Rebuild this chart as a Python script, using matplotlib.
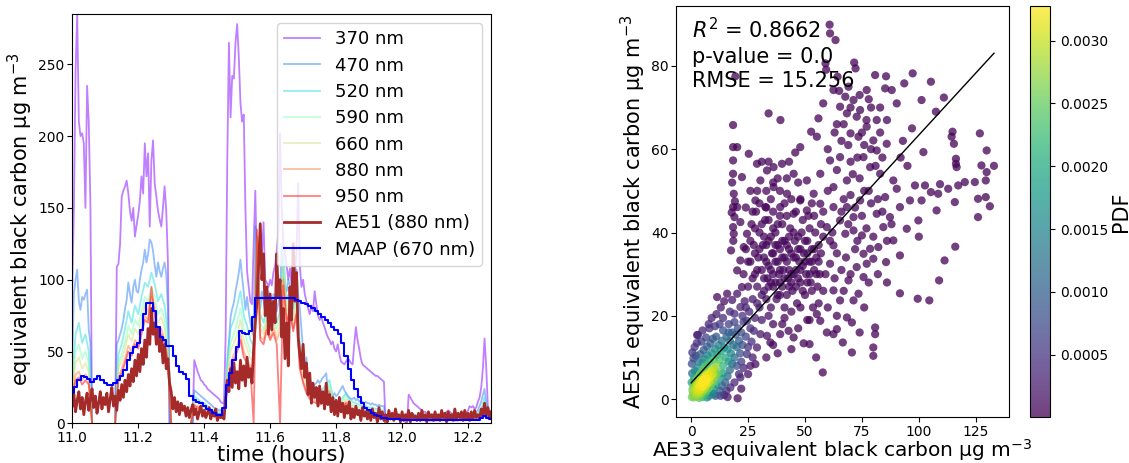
import numpy as np
import matplotlib
matplotlib.use('Agg')
import matplotlib.pyplot as plt

nan = np.nan

# ---------------- time series (left panel) ----------------
# 370 nm, 470 nm and AE51 are read on a 0.005 h grid, the rest on a 0.01 h grid
time_fine = 11.0 + 0.005 * np.arange(255)
time_coarse = 11.0 + 0.01 * np.arange(128)

bc_370 = [95, 150, 245, 285, 210, 200, 202, 195, 150, 235,
          210, 153, 0, nan, nan, nan, nan, nan, nan, nan,
          nan, nan, nan, nan, nan, nan, 0, 109, 111, 125,
          158, 162, 165, 169, 160, 148, 141, 150, 130, 138,
          145, 155, 172, 160, 195, 172, 188, 137, 183, 197,
          167, 158, 148, 142, 137, 150, 165, 148, 113, 0,
          nan, nan, nan, nan, nan, nan, nan, nan, nan, nan,
          nan, nan, nan, 0, 44, 40, 36, 33, 30, 29,
          27, 26, 24, 23, 22, 21, 20, 19, 18, 17,
          15, 14, 14, 60, 183, 265, 213, 242, 240, 265,
          278, 255, 223, 210, 215, 150, 106, 95, 85, 83,
          125, 162, 107, 105, 130, 118, 140, 100, 98, 95,
          100, 96, 105, 110, 120, 134, 202, 150, 125, 118,
          110, 100, 108, 96, 112, 104, 120, 167, 110, 95,
          100, 90, 85, 80, 76, 82, 78, 92, 83, 75,
          72, 74, 70, 67, 63, 60, 58, 55, 57, 52,
          50, 55, 48, 43, 42, 41, 43, 45, 44, 42,
          41, 55, 67, 58, 52, 45, 41, 40, 39, 38,
          37, 36, 35, 34, 33, 33, 32, 31, 30, 29,
          0, nan, nan, nan, nan, nan, nan, nan, nan, nan,
          nan, nan, nan, 0, 20, 18, 16, 14, 13, 12,
          11, 10, 9, 8, 8, 7, 7, 6, 6, 6,
          6, 5, 6, 5, 6, 5, 7, 8, 9, 8,
          7, 6, 6, 5, 6, 6, 5, 6, 6, 7,
          9, 12, 11, 12, 10, 11, 15, 18, 25, 38,
          59, 40, 12, 8, 6]

bc_470 = [45, 91, 100, 107, 85, 79, 88, 86, 90, 93,
          65, 56, 0, nan, nan, nan, nan, nan, nan, nan,
          nan, nan, nan, nan, nan, nan, 0, 55, 58, 62,
          66, 72, 80, 86, 98, 90, 84, 95, 100, 92,
          91, 100, 107, 112, 121, 112, 118, 128, 126, 120,
          110, 102, 112, 106, 102, 108, 112, 104, 80, 0,
          nan, nan, nan, nan, nan, nan, nan, nan, nan, nan,
          nan, nan, nan, 0, 23, 22, 21, 20, 19, 18,
          17, 16, 15, 14, 13, 12, 11, 10, 10, 9,
          9, 8, 8, 20, 40, 56, 74, 80, 84, 92,
          98, 105, 114, 102, 91, 79, 88, 78, 70, 65,
          60, 137, 95, 88, 80, 92, 85, 78, 88, 92,
          85, 82, 90, 86, 78, 84, 88, 125, 100, 95,
          92, 100, 96, 88, 94, 85, 107, 90, 80, 65,
          51, 37, 46, 32, 30, 29, 26, 27, 28, 30,
          28, 30, 32, 33, 35, 23, 22, 20, 19, 21,
          19, 20, 22, 24, 26, 23, 21, 19, 18, 17,
          17, 18, 16, 17, 15, 16, 15, 14, 15, 14,
          14, 13, 14, 13, 13, 12, 13, 12, 12, 12,
          0, nan, nan, nan, nan, nan, nan, nan, nan, nan,
          nan, nan, nan, 0, 7, 7, 6, 6, 6, 5,
          5, 5, 5, 5, 4, 4, 4, 5, 4, 4,
          4, 4, 5, 4, 4, 4, 5, 4, 4, 5,
          4, 5, 4, 4, 5, 4, 5, 5, 5, 5,
          6, 6, 6, 7, 7, 8, 9, 12, 15, 20,
          24, 14, 6, 5, 4]

bc_520 = [30, 62, 70, 56, 62, 50, 0, nan, nan, nan,
          nan, nan, nan, 0, 48, 55, 66, 78, 70, 82,
          76, 88, 98, 95, 105, 97, 85, 90, 82, 64,
          0, nan, nan, nan, nan, nan, 0, 19, 17, 15,
          14, 12, 10, 9, 8, 7, 6, 45, 66, 72,
          82, 92, 75, 68, 58, 54, 130, 76, 70, 80,
          75, 80, 70, 78, 118, 86, 92, 80, 95, 55,
          43, 33, 27, 25, 23, 22, 24, 27, 30, 19,
          16, 15, 18, 21, 17, 15, 14, 13, 12, 12,
          11, 11, 10, 10, 9, 0, nan, nan, nan, nan,
          nan, 0, 6, 5, 5, 4, 4, 4, 4, 3,
          3, 4, 4, 3, 4, 4, 3, 4, 4, 4,
          5, 5, 6, 7, 10, 18, 8, 4]

bc_590 = [26, 50, 55, 45, 50, 42, 0, nan, nan, nan,
          nan, nan, nan, 0, 42, 48, 57, 68, 62, 72,
          68, 78, 88, 85, 95, 88, 76, 80, 72, 55,
          0, nan, nan, nan, nan, nan, 0, 17, 15, 14,
          12, 11, 9, 8, 7, 6, 5, 38, 56, 62,
          70, 80, 65, 58, 50, 48, 128, 70, 65, 75,
          70, 74, 66, 72, 112, 82, 88, 76, 88, 50,
          38, 30, 24, 22, 20, 19, 21, 24, 27, 17,
          14, 13, 16, 19, 15, 13, 12, 11, 11, 10,
          10, 9, 9, 9, 8, 0, nan, nan, nan, nan,
          nan, 0, 5, 5, 4, 4, 4, 3, 3, 3,
          3, 3, 4, 3, 3, 4, 3, 3, 4, 4,
          4, 5, 5, 6, 9, 15, 7, 4]

bc_660 = [22, 42, 46, 38, 42, 36, 0, nan, nan, nan,
          nan, nan, nan, 0, 38, 44, 52, 62, 57, 66,
          62, 72, 82, 78, 90, 82, 70, 74, 66, 50,
          0, nan, nan, nan, nan, nan, 0, 15, 14, 12,
          11, 10, 8, 7, 6, 5, 5, 34, 50, 56,
          62, 72, 58, 52, 45, 44, 126, 66, 62, 72,
          66, 70, 62, 68, 108, 78, 85, 72, 84, 46,
          35, 27, 22, 20, 18, 17, 19, 22, 25, 15,
          13, 12, 14, 17, 14, 12, 11, 10, 10, 9,
          9, 8, 8, 8, 7, 0, nan, nan, nan, nan,
          nan, 0, 5, 4, 4, 4, 3, 3, 3, 3,
          3, 3, 3, 3, 3, 3, 3, 3, 3, 4,
          4, 4, 5, 5, 8, 12, 6, 3]

bc_880 = [18, 34, 36, 30, 34, 30, 0, nan, nan, nan,
          nan, nan, nan, 0, 32, 38, 45, 54, 50, 58,
          55, 65, 75, 72, 88, 78, 64, 66, 58, 44,
          0, nan, nan, nan, nan, nan, 0, 13, 12, 10,
          9, 8, 7, 6, 5, 4, 4, 28, 42, 48,
          54, 62, 50, 45, 40, 40, 130, 60, 58, 68,
          60, 66, 58, 64, 100, 72, 80, 66, 78, 40,
          30, 23, 19, 17, 15, 14, 16, 19, 22, 13,
          11, 10, 12, 15, 12, 10, 9, 9, 8, 8,
          8, 7, 7, 7, 6, 0, nan, nan, nan, nan,
          nan, 0, 4, 4, 3, 3, 3, 3, 3, 2,
          2, 3, 3, 2, 3, 3, 2, 3, 3, 3,
          3, 4, 4, 5, 7, 10, 5, 3]

bc_950 = [16, 30, 32, 27, 30, 27, 0, nan, nan, nan,
          nan, nan, nan, 0, 30, 35, 42, 50, 47, 55,
          52, 62, 72, 70, 95, 75, 60, 62, 55, 42,
          0, nan, nan, nan, nan, nan, 0, 12, 11, 9,
          8, 7, 6, 5, 4, 4, 3, 25, 38, 44,
          50, 58, 46, 42, 38, 0, 135, 58, 55, 65,
          58, 63, 55, 0, 96, 70, 78, 64, 76, 38,
          28, 21, 17, 15, 14, 13, 15, 18, 20, 12,
          10, 9, 11, 14, 11, 9, 8, 8, 7, 7,
          7, 6, 6, 6, 5, 0, nan, nan, nan, nan,
          nan, 0, 4, 3, 3, 3, 3, 2, 2, 2,
          2, 2, 3, 2, 2, 3, 2, 2, 3, 3,
          3, 3, 4, 4, 6, 9, 4, 3]

ae51_880 = [12, 20, 8, 16, 22, 10, 18, 6, 15, 21,
            9, 17, 24, 11, 19, 7, 14, 22, 10, 18,
            13, 21, 8, 17, 25, 12, 19, 9, 23, 16,
            27, 18, 30, 22, 34, 26, 38, 29, 44, 33,
            48, 36, 52, 41, 58, 46, 66, 55, 80, 62,
            70, 55, 66, 50, 60, 42, 55, 38, 45, 28,
            22, 10, 18, 8, 15, 6, 14, 9, 12, 5,
            11, 4, 9, 13, 6, 10, 3, 8, 12, 5,
            9, 4, 7, 11, 3, 8, 5, 10, 2, 6,
            4, 7, 3, 18, 30, 22, 38, 25, 42, 28,
            36, 24, 44, 30, 40, 26, 46, 32, 38, 28,
            52, 70, 84, 110, 139, 100, 118, 75, 95, 62,
            90, 65, 85, 70, 118, 88, 100, 60, 80, 45,
            70, 40, 95, 72, 125, 85, 105, 60, 48, 38,
            55, 32, 42, 20, 35, 14, 28, 18, 25, 12,
            26, 14, 22, 10, 28, 13, 20, 8, 18, 6,
            16, 5, 18, 8, 14, 4, 12, 7, 15, 3,
            10, 4, 12, 6, 9, 2, 11, 5, 8, 3,
            9, 2, 10, 4, 7, 1, 11, 3, 8, 2,
            6, 1, 9, 3, 7, 2, 10, 4, 6, 1,
            8, 2, 6, 3, 9, 1, 7, 4, 5, 2,
            7, 2, 9, 3, 6, 1, 8, 4, 6, 2,
            8, 3, 6, 2, 9, 4, 7, 1, 8, 3,
            6, 2, 10, 3, 7, 4, 8, 2, 9, 3,
            7, 2, 8, 3, 9, 4, 6, 3, 10, 5,
            14, 6, 11, 4, 8]

maap_670 = [21, 25, 30, 33, 32, 31, 29, 31, 33, 30,
            28, 27, 27, 28, 30, 33, 37, 44, 49, 53,
            56, 65, 76, 84, 84, 78, 67, 60, 58, 54,
            54, 47, 40, 36, 34, 31, 19, 16, 15, 14,
            12, 10, 9, 7, 6, 6, 11, 27, 35, 44,
            53, 64, 63, 62, 64, 74, 87, 87, 87, 87,
            87, 87, 87, 87, 87, 87, 87, 87, 86, 85,
            84, 83, 82, 80, 78, 76, 74, 72, 70, 67,
            65, 62, 56, 47, 38, 30, 24, 18, 14, 11,
            9, 7, 6, 5, 4, 4, 3, 3, 3, 3,
            2, 2, 2, 2, 2, 2, 2, 2, 2, 2,
            2, 2, 2, 2, 2, 2, 2, 2, 2, 2,
            2, 2, 2, 2, 4, 5, 4, 3]

ae33_labels = ['370 nm', '470 nm', '520 nm', '590 nm', '660 nm', '880 nm', '950 nm']

# ---------------- scatter (right panel): (AE33, AE51) ----------------
# the low-concentration blob holds most of the samples; each point there
# stands for many overlapping samples (core_count / mid_count / edge_count)
core_count = 16
mid_count = 12
edge_count = 2

core_pts = [(0.3, 0.5), (0.8, 1.2), (1.2, 0.4), (1.5, 2.0), (2.0, 1.1), (2.2, 2.8), (2.6, 0.6),
            (2.9, 1.9), (3.1, 3.4), (3.4, 2.5), (3.6, 1.2), (3.9, 3.0), (4.1, 4.1), (4.3, 2.2),
            (4.6, 3.6), (4.8, 1.6), (5.0, 4.6), (5.2, 2.9), (5.5, 3.8), (5.7, 5.2), (5.9, 2.4),
            (6.2, 4.4), (6.4, 3.2), (6.7, 5.8), (6.9, 4.9), (7.2, 3.7), (7.5, 6.1), (7.8, 5.0),
            (8.1, 4.2), (8.4, 6.6), (8.8, 5.5), (9.2, 7.0), (9.6, 6.0), (10.1, 7.4), (1.0, 3.0),
            (1.8, 3.6), (0.5, 2.2), (2.4, 4.5), (3.0, 5.2), (3.8, 5.9), (4.5, 6.5), (5.3, 7.0),
            (6.0, 7.6), (7.0, 8.2), (0.2, 4.0), (1.2, 5.0), (0.4, 6.2), (1.6, 6.8), (2.8, 7.4),
            (3.5, 0.3), (4.2, 0.8), (5.1, 0.5), (6.1, 1.2), (6.8, 2.0), (7.6, 2.6), (8.3, 3.0),
            (9.0, 3.8), (9.8, 4.6), (10.5, 5.2), (11.2, 6.0), (3.2, 2.6), (3.7, 3.1), (4.2, 3.3),
            (4.7, 3.9), (5.1, 4.1), (3.9, 2.2), (4.4, 2.9), (2.7, 2.3), (5.6, 4.6), (6.1, 5.0),
            (3.3, 3.8), (4.9, 3.2), (2.3, 1.6), (1.9, 2.4), (5.4, 3.5), (6.5, 4.0), (2.6, 3.3),
            (4.0, 4.6), (3.0, 1.5), (6.3, 5.6)]

mid_pts = [(0.3, 8.5), (1.0, 9.8), (0.5, 11.2), (2.0, 10.4), (1.5, 12.5), (3.2, 9.0), (4.0, 10.8),
           (2.5, 13.5), (5.0, 8.8), (6.0, 9.6), (5.5, 11.8), (7.2, 10.5), (8.0, 9.0), (7.0, 12.6),
           (9.0, 11.0), (8.5, 13.4), (10.0, 9.5), (10.5, 12.0), (11.0, 8.2), (11.5, 10.6),
           (12.0, 13.0), (12.5, 9.4), (13.0, 11.5), (13.5, 14.0), (14.0, 8.0), (14.5, 12.4),
           (15.0, 10.0), (15.5, 15.0), (16.0, 12.0), (16.5, 9.0), (17.0, 14.0), (17.5, 11.0),
           (18.0, 16.0), (18.5, 13.0), (19.0, 10.0), (19.5, 15.5), (20.0, 12.5), (12.0, 6.5),
           (13.0, 5.0), (14.0, 6.2), (15.0, 4.0), (16.0, 5.5), (17.0, 7.0), (18.0, 8.5),
           (11.0, 3.5), (12.5, 2.0), (10.0, 2.5), (9.0, 1.5), (8.0, 0.8), (7.0, 0.4), (13.5, 3.2),
           (15.5, 2.0), (14.0, 16.5), (11.0, 15.0), (9.5, 14.5), (6.5, 14.8), (4.5, 13.8),
           (3.0, 15.4), (8.0, 17.0), (10.5, 17.5), (12.5, 18.0), (16.5, 18.0), (19.0, 18.5),
           (20.5, 17.0), (21.0, 14.0), (22.0, 16.0), (21.5, 11.0), (22.5, 13.0), (23.0, 18.5),
           (20.0, 8.0), (21.0, 6.0), (22.0, 9.0)]

edge_pts = [(11.4, 24.5), (13.0, 22.0), (14.5, 23.5), (15.8, 25.3), (17.0, 21.0), (18.0, 23.8),
            (19.0, 20.5), (20.2, 25.3), (21.6, 22.1), (22.5, 20.0), (23.5, 23.5), (24.5, 18.8),
            (25.5, 21.0), (26.0, 17.0), (27.5, 16.4), (28.0, 19.5), (24.0, 15.0), (25.0, 12.5),
            (26.5, 13.8), (28.9, 12.4), (27.0, 10.0), (28.2, 8.4), (24.5, 10.8), (23.0, 7.5),
            (25.0, 6.0), (21.6, 5.2), (19.0, 4.0), (17.2, 2.8), (14.5, 1.0), (12.9, 0.8),
            (9.9, 1.2), (20.4, 0.2), (10.7, 0.8), (16.0, 0.5), (2.6, 15.4), (7.7, 18.0),
            (11.1, 20.4), (5.0, 16.5), (9.0, 19.5), (14.0, 19.5), (16.5, 16.0), (26.0, 8.0),
            (22.0, 2.5)]

streak_pts = [(18.4, 57.3), (18.4, 54.1), (18.7, 49.3), (18.4, 46.1), (19.0, 43.7), (18.4, 41.3),
              (18.7, 39.7), (17.5, 35.7), (18.4, 60.5), (20.2, 60.5), (18.4, 65.8), (19.4, 77.5),
              (18.0, 52.0), (19.2, 47.5), (17.8, 44.8), (18.5, 38.0)]

cloud_pts = [(23, 30), (24, 36), (24.5, 39.7), (25, 27), (26, 33), (26.5, 42), (27, 24), (27.5, 37),
             (28, 30), (28.5, 45), (29, 27), (29.5, 34), (30, 40), (30, 22), (31, 31), (31.5, 37),
             (32, 26), (32.5, 43), (33, 33), (33.5, 29), (34, 38), (34, 20), (35, 31), (35.5, 35),
             (36, 27), (36, 41), (37, 33), (37.5, 24), (38, 37), (38.5, 30), (39, 44), (39, 28),
             (40, 34), (40.5, 31), (41, 38), (41, 22), (42, 33), (42.5, 29), (43, 36), (43.5, 41),
             (44, 30), (44.5, 26), (45, 34), (45.5, 38), (46, 31), (46.5, 23), (47, 36), (47.5, 33),
             (48, 28), (48.5, 40), (49, 32), (49.5, 35), (50, 25), (50.5, 30), (51, 38), (51.5, 44),
             (52, 33), (52.5, 28), (53, 36), (53.5, 22), (54, 31), (54.5, 40), (55, 34), (55.5, 27),
             (56, 37), (56.5, 30), (57, 42), (58, 26), (39, 25), (37, 40), (43, 27), (46, 45),
             (33, 46), (29, 50), (35, 48), (41, 47), (48, 48), (53, 47), (36, 52), (42, 53),
             (30.4, 52.5), (28.9, 56.5), (33.3, 54.9), (36.2, 55.7), (39.9, 56.5), (36.2, 50.9),
             (42.1, 49.3), (45, 54.1), (47.9, 47.7), (50.8, 52.5), (53.8, 49.3), (56.7, 54.1),
             (45.7, 59.2), (47.9, 60.5), (25.3, 58.9), (34, 68.6), (39.2, 67), (55.9, 67.4),
             (52.7, 64.2), (55.2, 63), (21.6, 33.3), (20.2, 30.9), (22.3, 26.9), (23.1, 36.5),
             (21.6, 42.5), (20.2, 46.1), (22.3, 53.3), (28.2, 47.7), (32.6, 46.1), (39.1, 46.1),
             (45, 44.5), (50.8, 45.3), (56.7, 46.9)]

cloud2_pts = [(24, 22), (25, 33), (26, 38), (27, 29), (27, 45), (28, 35), (28, 41), (29, 23), (29, 31),
              (30, 36), (30, 47), (31, 25), (31, 42), (32, 29), (32, 34), (32, 39), (33, 24), (33, 37),
              (33, 50), (34, 27), (34, 32), (34, 43), (35, 22), (35, 28), (35, 39), (36, 30), (36, 35),
              (36, 45), (37, 28), (37, 37), (38, 25), (38, 33), (38, 42), (39, 31), (39, 36), (39, 50),
              (40, 27), (40, 38), (40, 42), (41, 29), (41, 34), (42, 25), (42, 37), (42, 44), (43, 31),
              (43, 39), (44, 28), (44, 35), (44, 48), (45, 30), (45, 40), (46, 27), (46, 34), (47, 29),
              (47, 39), (48, 31), (48, 36), (49, 26), (49, 43), (50, 33), (50, 38), (51, 28), (51, 35),
              (52, 30), (52, 41), (53, 26), (53, 33), (54, 36), (54, 44), (55, 30), (56, 33), (57, 35),
              (58, 39), (59, 30), (34, 57), (38, 53), (43, 57), (47, 52), (31, 57), (26, 50), (24, 46),
              (40, 18), (44, 21), (48, 22), (52, 19), (56, 23), (60, 22), (36, 13), (33, 10)]

low_pts = [(30.4, 15.6), (33.3, 15.2), (34.8, 13.6), (39.1, 15.6), (42.8, 16.4), (45, 14.8),
           (49.4, 13.4), (52, 13.2), (54.9, 10), (57.8, 6.4), (55.2, 20.4), (56.7, 18.8),
           (59.6, 16), (62.5, 15.6), (64, 16.8), (66.6, 13.6), (68.4, 19.6), (70.6, 18.4),
           (70.6, 11.2), (80.8, 17.2), (80.8, 15.6), (80, 12.4), (80, 10.4), (36, 18), (41, 19.5),
           (47, 17), (51, 19), (44, 12), (38, 11), (31, 19)]

upper_pts = [(60.8, 89.9), (61, 87.8), (63.4, 86.2), (59, 80.6), (59.3, 79.1), (71.6, 80.8),
             (72.2, 79.4), (80.8, 77.8), (85.6, 77.5), (85.2, 74.6), (88.1, 74.2), (90.3, 71),
             (64.3, 77.4), (62.5, 74.2), (69.1, 75), (77.1, 74.2), (67.7, 72.6), (71.3, 71.8),
             (65.4, 70.2), (74.2, 69.4), (68.4, 68.6), (72.7, 67.8), (81.5, 67), (77.1, 65.4),
             (70, 63.8), (73.5, 63), (80, 62.1), (85.9, 61.3), (81.5, 59.7), (75.7, 58.1),
             (78.6, 55.7), (83, 54.1), (88.8, 52.5), (85.2, 48.5), (90.3, 50.5), (91.7, 46.1),
             (87.3, 43.7), (81.5, 44.5), (84.4, 41.3), (75, 39.3), (71.3, 40.5), (67.7, 39.7),
             (62.5, 36.9), (61, 32.5), (78.6, 36.1), (75.7, 34.9), (77.1, 32.5), (72.7, 31.7),
             (75.7, 29.3), (69.1, 28.5), (73.5, 25.3), (62.5, 26.1), (65.4, 23.7), (71.3, 23.7),
             (61, 57.3), (65.4, 58.1), (62.5, 50.9), (68.4, 52.5), (59.6, 41.3), (65.4, 42.9),
             (71.3, 43.7), (62.5, 46.1), (68.4, 46.1), (74.2, 47.7), (80, 33.7), (85.6, 32.9),
             (82.2, 36.5), (88.8, 38.1), (91.7, 34.5), (91.7, 25.4), (78, 50), (74, 53), (70, 57),
             (66, 62), (64, 66), (76, 61), (79, 70), (83, 64), (67, 48), (72, 36), (66, 31),
             (60, 60), (58, 71), (63, 64)]

upper2_pts = [(62, 40), (64, 35), (66, 45), (68, 34), (69, 42), (70, 49), (72, 46), (73, 38), (75, 44),
              (76, 50), (77, 41), (79, 47), (80, 39), (82, 48), (84, 45), (86, 38), (88, 42), (71, 54),
              (73, 58), (75, 64), (77, 67), (79, 60), (81, 56), (84, 58), (86, 67), (69, 61), (67, 66),
              (65, 74), (70, 70), (74, 73), (78, 72), (83, 70), (64, 55), (60, 50), (58, 45), (61, 38),
              (63, 29), (67, 26), (70, 30), (78, 28), (82, 30), (86, 28), (76, 22), (74, 16), (64, 20)]

right_pts = [(97.3, 78.2), (93.6, 75.8), (105.3, 76.2), (101.2, 71.8), (111, 72.4), (107.5, 69),
             (114.8, 64.2), (126.8, 63.8), (114.4, 63), (115.4, 61.3), (102, 59.3), (129.8, 59.7),
             (116.3, 57.7), (116.3, 56.5), (116.6, 55.7), (127.5, 56.1), (129.8, 54.5), (133, 56),
             (129.4, 52.5), (120.2, 52.1), (124.6, 52.1), (117.3, 51.3), (112.9, 50.5),
             (109.3, 51.6), (108.5, 49.3), (105.3, 49.7), (102.7, 51.3), (98.3, 51.3), (96.1, 47.7),
             (115.8, 47.3), (101.2, 47.7), (126, 48.1), (129.4, 48.5), (131.2, 46.3), (107.8, 45.3),
             (99.8, 42.9), (126, 43.7), (94.7, 40.9), (116, 36.6), (111.3, 33.3), (108.9, 28.5),
             (99.5, 24.1), (104.6, 23.7), (95, 56), (93, 62), (97, 65), (92, 58), (100, 39)]

# linear fit and stats as printed on the original figure
fit_slope = 0.595
fit_intercept = 3.9
stats_text = '$R^2$ = 0.8662\np-value = 0.0\nRMSE = 15.256'


def kde2d(x, y, w, factor):
    # weighted gaussian kde (full covariance, like scipy's gaussian_kde),
    # evaluated at the points themselves
    wn = w / w.sum()
    mx, my = (wn * x).sum(), (wn * y).sum()
    cxx = (wn * (x - mx) ** 2).sum()
    cyy = (wn * (y - my) ** 2).sum()
    cxy = (wn * (x - mx) * (y - my)).sum()
    cov = np.array([[cxx, cxy], [cxy, cyy]]) / (1 - (wn ** 2).sum()) * factor ** 2
    inv = np.linalg.inv(cov)
    dx = x[:, None] - x[None, :]
    dy = y[:, None] - y[None, :]
    q = inv[0, 0] * dx ** 2 + 2 * inv[0, 1] * dx * dy + inv[1, 1] * dy ** 2
    k = (np.exp(-0.5 * q) * w[None, :]).sum(axis=1)
    return k / (w.sum() * 2 * np.pi * np.sqrt(np.linalg.det(cov)))


fig = plt.figure(figsize=(11.29, 4.63), dpi=100)

# ---- left: time series ----
ax1 = fig.add_axes([0.064, 0.0857, 0.371, 0.884])
cols = plt.cm.rainbow(np.linspace(0, 1, 7))
ax1.plot(time_fine, bc_370, color=cols[0], alpha=0.5, lw=1.3, label=ae33_labels[0])
ax1.plot(time_fine, bc_470, color=cols[1], alpha=0.5, lw=1.3, label=ae33_labels[1])
coarse_series = [bc_520, bc_590, bc_660, bc_880, bc_950]
for i, vals in enumerate(coarse_series):
    ax1.plot(time_coarse, vals, color=cols[i + 2], alpha=0.5, lw=1.3, label=ae33_labels[i + 2])
ax1.plot(time_fine, ae51_880, color='#a52a2a', lw=2.0, label='AE51 (880 nm)')
ax1.plot(time_coarse, maap_670, color='blue', lw=1.5, drawstyle='steps-mid', label='MAAP (670 nm)')
ax1.set_xlim(11.0, 12.27)
ax1.set_ylim(0, 285)
ax1.set_xlabel('time (hours)', fontsize=15, labelpad=0)
ax1.set_ylabel('equivalent black carbon μg m$^{-3}$', fontsize=15, labelpad=2)
ax1.tick_params(labelsize=10, pad=2)
ax1.legend(loc='upper right', fontsize=13, labelspacing=0.46)

# ---- right: AE33 vs AE51 density scatter ----
groups = [(core_pts, core_count), (mid_pts, mid_count), (edge_pts, edge_count), (streak_pts, 1),
          (cloud_pts, 1), (cloud2_pts, 1), (low_pts, 1), (upper_pts, 1), (upper2_pts, 1),
          (right_pts, 1)]
x = np.array([p[0] for g, n in groups for p in g], dtype=float)
y = np.array([p[1] for g, n in groups for p in g], dtype=float)
w = np.array([n for g, n in groups for p in g], dtype=float)
z = kde2d(x, y, w, 0.33)
order = z.argsort()
x, y, z = x[order], y[order], z[order]

ax2 = fig.add_axes([0.5988, 0.0994, 0.295, 0.8877])
sc = ax2.scatter(x, y, c=z, s=35, cmap='viridis', alpha=0.75, edgecolors='none')
xx = np.array([0, x.max()])
ax2.plot(xx, fit_slope * xx + fit_intercept, color='black', lw=1)
ax2.text(0.048, 0.972, stats_text, transform=ax2.transAxes, va='top', ha='left', fontsize=15,
         linespacing=1.25)
ax2.set_xlabel('AE33 equivalent black carbon μg m$^{-3}$', fontsize=14.5, labelpad=-1)
ax2.set_ylabel('AE51 equivalent black carbon μg m$^{-3}$', fontsize=15, labelpad=2)
ax2.tick_params(labelsize=10, pad=2)

cax = fig.add_axes([0.9123, 0.0994, 0.0177, 0.8877])
cb = fig.colorbar(sc, cax=cax)
cb.set_label('PDF', fontsize=15, labelpad=2)
cb.ax.tick_params(labelsize=10)

fig.savefig('out.png', dpi=100)
